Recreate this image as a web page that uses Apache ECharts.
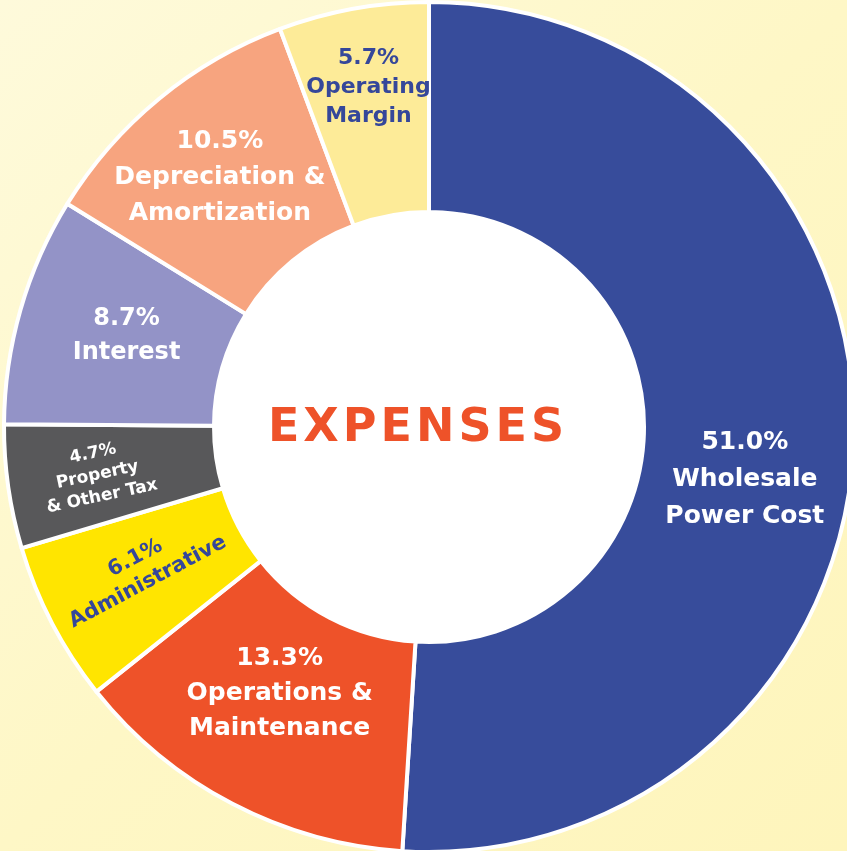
<!DOCTYPE html>
<html>
<head>
<meta charset="utf-8">
<script src="https://cdn.jsdelivr.net/npm/echarts@6/dist/echarts.min.js"></script>
<style>
  html, body { margin: 0; padding: 0; }
  #chart { width: 847px; height: 851px; }
</style>
</head>
<body>
<div id="chart"></div>
<script>
// expense breakdown, clockwise from 12 o'clock
const categories = ['Wholesale\nPower Cost', 'Operations &\nMaintenance', 'Administrative', 'Property\n& Other Tax', 'Interest', 'Depreciation &\nAmortization', 'Operating\nMargin'];
const shares = [51.0, 13.3, 6.1, 4.7, 8.7, 10.5, 5.7];
const colorList = ['#374C9B', '#EE5229', '#FFE500', '#58585A', '#9393C7', '#F7A47F', '#FDEB98'];
const centerTitle = 'EXPENSES';

const darkText = '#35479A';

// per-slice label tweaks
const labelStyles = [
  { color: '#fff', fontSize: 25, lineHeight: 37 },
  { color: '#fff', fontSize: 25, lineHeight: 35 },
  { color: darkText, fontSize: 21, lineHeight: 27, rotate: 28 },
  { color: '#fff', fontSize: 17, lineHeight: 22, rotate: 12 },
  { color: '#fff', fontSize: 24, lineHeight: 34 },
  { color: '#fff', fontSize: 25, lineHeight: 36 },
  { color: darkText, fontSize: 22, lineHeight: 29 }
];
// small nudges off the default mid-sector spot
const labelNudge = [[-7, 42], [0, -20], [2, -6], [-12, 0], [8, -2], [-4, 0], [-3, -22]];

const chart = echarts.init(document.getElementById('chart'));

chart.setOption({
  backgroundColor: {
    type: 'linear', x: 0, y: 0, x2: 1, y2: 1,
    colorStops: [
      { offset: 0, color: '#FEFADB' },
      { offset: 0.5, color: '#FEF7C6' },
      { offset: 1, color: '#FEF5BC' }
    ]
  },
  color: colorList,
  series: [
    {
      // white hole
      type: 'pie',
      silent: true,
      radius: [0, 216],
      center: [429, 427],
      label: { show: false },
      itemStyle: { color: '#fff' },
      data: [{ value: 1, name: '' }]
    },
    {
      type: 'pie',
      radius: [215, 425],
      center: [429, 427],
      startAngle: 90,
      clockwise: true,
      avoidLabelOverlap: false,
      itemStyle: { borderColor: '#fff', borderWidth: 4 },
      emphasis: { disabled: true },
      label: {
        show: true,
        position: 'inside',
        fontFamily: '"DejaVu Sans"',
        fontWeight: 'bold',
        align: 'center',
        formatter: (p) => p.value.toFixed(1) + '%\n' + p.name
      },
      labelLine: { show: false },
      labelLayout: (params) => ({
        dx: labelNudge[params.dataIndex][0],
        dy: labelNudge[params.dataIndex][1]
      }),
      data: shares.map((v, i) => ({
        value: v,
        name: categories[i],
        label: labelStyles[i]
      }))
    }
  ],
  graphic: {
    type: 'text',
    x: 416,
    y: 429,
    z: 10,
    style: {
      text: centerTitle.split('').map((c) => '{l|' + c + '}').join(''),
      align: 'center',
      verticalAlign: 'middle',
      rich: {
        l: {
          fill: '#EE5229',
          fontFamily: '"DejaVu Sans"',
          fontWeight: 'bold',
          fontSize: 46,
          padding: [0, 2]
        }
      }
    }
  }
});
</script>
</body>
</html>
